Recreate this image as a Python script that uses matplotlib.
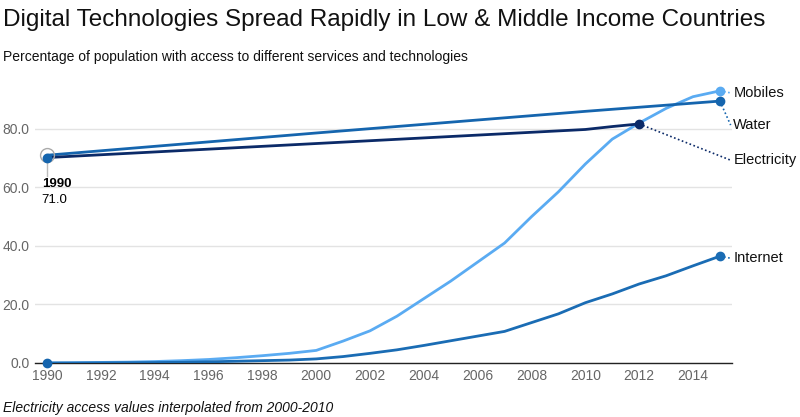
import matplotlib
matplotlib.use('Agg')
import matplotlib.pyplot as plt

plt.rcParams['font.family'] = ['Liberation Sans', 'DejaVu Sans']

years = list(range(1990, 2016))
mobiles = [0, 0.1, 0.2, 0.3, 0.5, 0.8, 1.2, 1.8, 2.5, 3.3, 4.3, 7.5, 11, 16, 22, 28,
           34.5, 41, 50, 58.5, 68, 76.5, 82, 87, 91, 93]
internet = [0, 0, 0.05, 0.1, 0.15, 0.25, 0.4, 0.6, 0.8, 1.0, 1.4, 2.2, 3.3, 4.5, 6.0, 7.6,
            9.2, 10.8, 13.8, 16.8, 20.6, 23.6, 27.0, 29.8, 33.2, 36.5]
water_years = [1990, 2000, 2010, 2015]
water = [71.0, 78.6, 86.0, 89.5]
elec_years = [1990, 2000, 2010, 2011, 2012]
electricity = [70.2, 75.0, 79.8, 80.8, 81.7]

c_mob = '#5aabf2'
c_wat = '#1565ae'
c_int = '#1a6cb4'
c_ele = '#0b2a68'

fig = plt.figure(figsize=(8, 4.17), dpi=100)
ax = fig.add_axes([35/800, (417-363)/417, (732-35)/800, (363-85)/417])

ax.plot(years, mobiles, color=c_mob, lw=2, zorder=3)
ax.plot(water_years, water, color=c_wat, lw=2, zorder=4)
ax.plot(elec_years, electricity, color=c_ele, lw=2, zorder=4)
ax.plot(years, internet, color=c_int, lw=2, zorder=3)

# end points
ax.plot(years[-1], mobiles[-1], 'o', color=c_mob, ms=6, zorder=5)
ax.plot(water_years[-1], water[-1], 'o', color=c_wat, ms=6, zorder=5)
ax.plot(elec_years[-1], electricity[-1], 'o', color=c_ele, ms=6, zorder=5)
ax.plot(years[-1], internet[-1], 'o', color=c_int, ms=6, zorder=5)

# labels with dotted leaders
lx = 2015.45
labels = [('Mobiles', 92.3, mobiles[-1], years[-1], c_mob),
          ('Water', 81.3, water[-1], water_years[-1], c_wat),
          ('Electricity', 69.3, electricity[-1], elec_years[-1], c_ele),
          ('Internet', 35.8, internet[-1], years[-1], c_int)]
for name, ly, py, px, col in labels:
    ax.plot([px, lx - 0.05], [py, ly], ls=(0, (1, 1.5)), color=col, lw=1.2,
            clip_on=False, zorder=2)
    ax.text(lx + 0.05, ly, name, fontsize=10.5, va='center', ha='left', color='#111111')

# hover annotation at 1990
ax.plot(1990, water[0], 'o', ms=10, mfc='none', mec='#aaaaaa', mew=1, zorder=6)
ax.plot(1990, electricity[0], 'o', color=c_wat, ms=6, zorder=6)
ax.plot([1990, 1990], [electricity[0] - 1, 64], color='#bbbbbb', lw=1, zorder=2)
ax.plot(1990, internet[0], 'o', color=c_wat, ms=6, zorder=6, clip_on=False)
ax.text(1989.8, 61.0, '1990', fontsize=9.5, fontweight='bold', va='center', ha='left')
ax.text(1989.8, 55.8, '71.0', fontsize=9.5, va='center', ha='left')

ax.set_xlim(1989.55, 2015.45)
ax.set_ylim(0, 95)
ax.set_xticks(range(1990, 2015, 2))
ax.set_yticks([0, 20, 40, 60, 80])
ax.set_yticklabels(['0.0', '20.0', '40.0', '60.0', '80.0'])
ax.tick_params(length=0, labelsize=10, labelcolor='#666666', pad=4)
ax.grid(axis='y', color='#e3e3e3', lw=1)
ax.set_axisbelow(True)
for s in ['top', 'right', 'left']:
    ax.spines[s].set_visible(False)
ax.spines['bottom'].set_color('#222222')
ax.spines['bottom'].set_linewidth(1)

fig.text(3/800, 1 - 20/417, 'Digital Technologies Spread Rapidly in Low & Middle Income Countries',
         fontsize=17.5, va='center', ha='left', color='#111111')
fig.text(3/800, 1 - 57/417, 'Percentage of population with access to different services and technologies',
         fontsize=10, va='center', ha='left', color='#111111')
fig.text(3/800, 1 - 408/417, 'Electricity access values interpolated from 2000-2010',
         fontsize=10, style='italic', va='center', ha='left', color='#111111')

fig.savefig('out.png', dpi=100)
